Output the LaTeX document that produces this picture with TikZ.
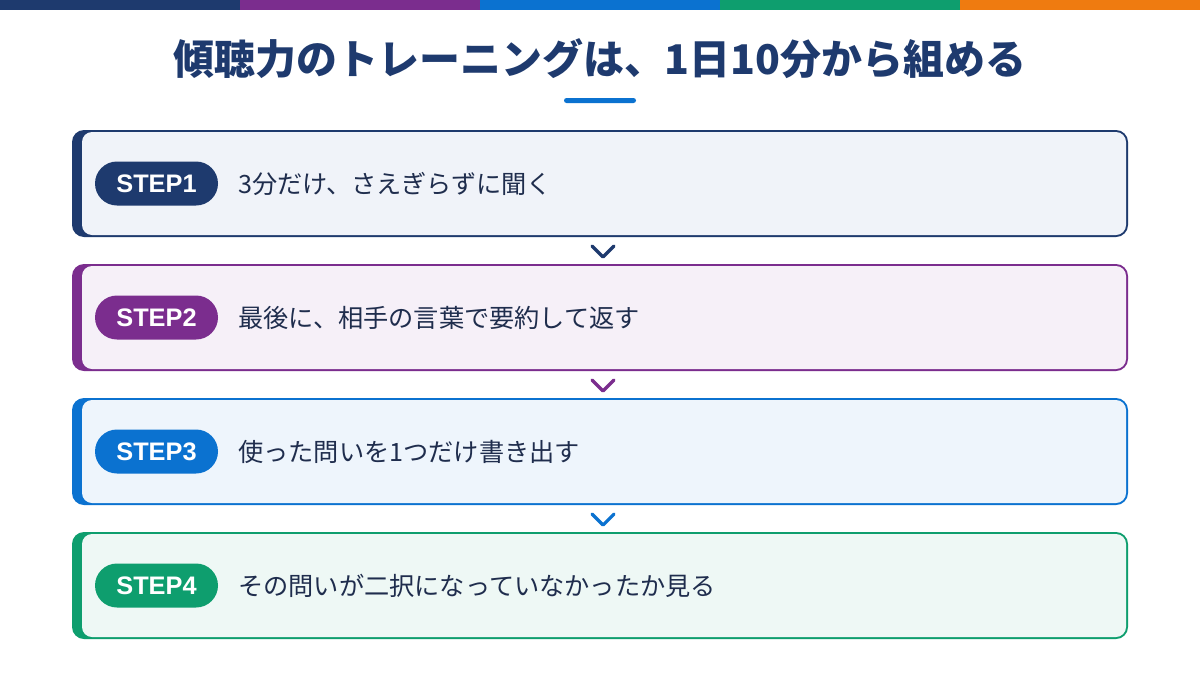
\documentclass[tikz,border=0pt]{standalone}
\usepackage{fontspec}
\setmainfont{Noto Sans CJK JP}
\newfontfamily\pillfont{Liberation Sans}
\definecolor{navy}{HTML}{1E3A6E}
\definecolor{purp}{HTML}{7B2D8E}
\definecolor{blu}{HTML}{0B72D0}
\definecolor{grn}{HTML}{0E9E6E}
\definecolor{org}{HTML}{EF7B10}
\definecolor{bgA}{HTML}{F0F3F9}
\definecolor{bgB}{HTML}{F6F0F8}
\definecolor{bgC}{HTML}{EEF5FC}
\definecolor{bgD}{HTML}{EEF8F5}
\definecolor{txt}{HTML}{1F2D4D}
\tikzset{
  pill/.style={fill=#1, text=white, rounded corners=22*0.75pt, minimum width=123*0.75pt, minimum height=44*0.75pt, inner sep=0pt, font=\pillfont\fontsize{19}{21}\selectfont\bfseries},
  steptext/.style={anchor=west, text=txt, inner sep=0pt, font=\fontsize{18.9}{21}\selectfont},
  chev/.style={draw=#1, line width=3.2*0.75pt, line cap=round, line join=round},
}
\begin{document}
\begin{tikzpicture}[x=0.75pt,y=-0.75pt]
\useasboundingbox (0,0) rectangle (1200,675);
\fill[white] (0,0) rectangle (1200,675);
% top stripe
\fill[navy] (0,0) rectangle (240,10);
\fill[purp] (240,0) rectangle (480,10);
\fill[blu] (480,0) rectangle (720,10);
\fill[grn] (720,0) rectangle (960,10);
\fill[org] (960,0) rectangle (1200,10);
% title
\node[text=navy, font=\fontsize{30.7}{34}\selectfont\bfseries, inner sep=0pt] (title) at (600,59) {傾聴力のトレーニングは、1日10分から組める};
\fill[blu, rounded corners=2.5*0.75pt] (564,98) rectangle (636,103);
% cards
\foreach \i/\c/\bg/\t [count=\k from 0] in {1/navy/bgA/3分だけ、さえぎらずに聞く, 2/purp/bgB/最後に、相手の言葉で要約して返す, 3/blu/bgC/使った問いを1つだけ書き出す, 4/grn/bgD/その問いが二択になっていなかったか見る}{
  \pgfmathsetmacro{\top}{130+134*\k}
  \pgfmathsetmacro{\bot}{\top+107}
  \pgfmathsetmacro{\mid}{\top+53.5}
  \fill[\c, rounded corners=12*0.75pt] (72,\top) rectangle (1128,\bot);
  \fill[\bg, rounded corners=10*0.75pt] (82,\top+2) rectangle (1126,\bot-2);
  \coordinate (cardtop\i) at (603,\top);
  \coordinate (cardbot\i) at (603,\bot);
  \node[pill=\c] (pill\i) at (156.5,\mid) {STEP\i};
  \node[steptext] (txt\i) at (238,\mid) {\t};
}
% chevrons between cards
\foreach \i/\c in {1/navy,2/purp,3/blu}{
  \draw[chev=\c] ([xshift=-11*0.75pt, yshift=-9*0.75pt]cardbot\i) -- ([yshift=-20*0.75pt]cardbot\i) -- ([xshift=11*0.75pt, yshift=-9*0.75pt]cardbot\i);
}
\end{tikzpicture}
\end{document}
